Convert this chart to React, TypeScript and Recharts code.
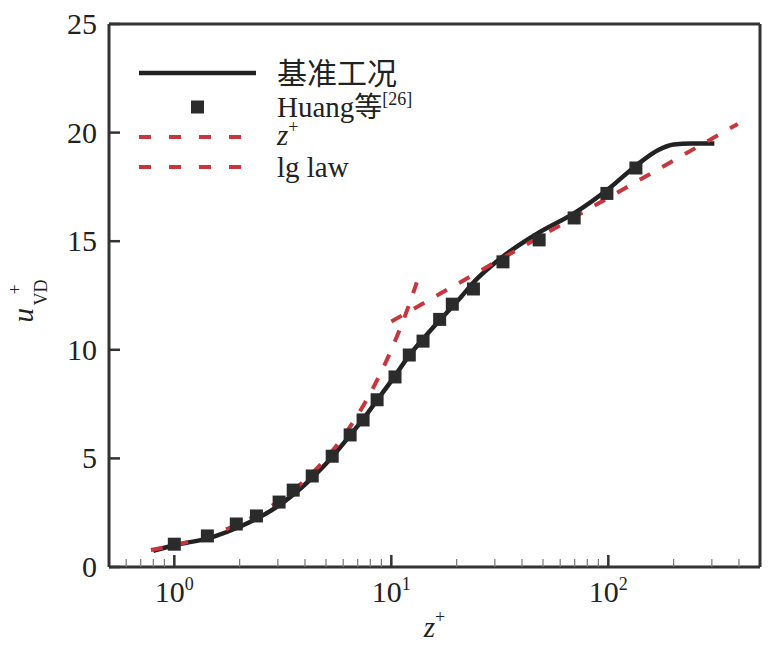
import React from "react";
import {
  ComposedChart,
  Line,
  Scatter,
  XAxis,
  YAxis,
  Legend,
  ReferenceLine,
} from "recharts";

// 基准工况 (solid black curve)
const baseZ = [0.8, 1.0, 1.5, 2.0, 3.0, 4.0, 5.0, 6.5, 7.4, 8.7, 10.4, 12, 14, 16.5, 20, 25, 30, 36, 48, 70, 100, 135, 170, 200, 240, 308];
const baseU = [0.75, 1.0, 1.38, 1.85, 2.8, 3.8, 4.75, 6.1, 6.8, 7.75, 8.8, 9.7, 10.5, 11.3, 12.2, 13.3, 14.0, 14.6, 15.4, 16.3, 17.4, 18.5, 19.2, 19.45, 19.5, 19.5];

// Huang 等 [26] (square markers)
const huangZ = [1.0, 1.42, 1.93, 2.39, 3.04, 3.53, 4.32, 5.34, 6.46, 7.41, 8.6, 10.4, 12.1, 14.0, 16.7, 19.1, 23.9, 32.7, 48, 69.6, 98.5, 134];
const huangU = [1.05, 1.43, 1.98, 2.35, 2.99, 3.54, 4.19, 5.1, 6.08, 6.77, 7.7, 8.75, 9.76, 10.4, 11.4, 12.1, 12.8, 14.05, 15.06, 16.07, 17.2, 18.37];

// z+ (viscous sublayer)
const zPlusZ = [0.78, 1, 1.3, 1.7, 2.2, 3, 4, 5, 6, 7, 8, 9, 10, 11, 12, 13.1];
const zPlusU = [0.78, 1, 1.3, 1.7, 2.2, 3, 4, 5, 6, 7, 8, 9, 10, 11, 12, 13.1];

// lg law
const lgZ = [10, 100, 395];
const lgU = [11.3, 17.0, 20.4];

const xTicks = [0.6, 0.7, 0.8, 0.9, 1, 2, 3, 4, 5, 6, 7, 8, 9, 10, 20, 30, 40, 50, 60, 70, 80, 90, 100, 200, 300, 400];
const yTicks = [0, 5, 10, 15, 20, 25];

const RED = "#c8363d";
const BLACK = "#222";
const AXIS = "#333";
const SERIF = "'Liberation Serif', serif";
const CJK = "'Noto Sans CJK SC', sans-serif";

const zip = (xs: number[], ys: number[]) => xs.map((z, i) => ({ z, u: ys[i] }));

const baseData = zip(baseZ, baseU);
const huangData = zip(huangZ, huangU);
const zPlusData = zip(zPlusZ, zPlusU);
const lgData = zip(lgZ, lgU);

function XTick({ x, y, payload }: any) {
  const v = payload.value;
  const exp = Math.round(Math.log10(v));
  const major = Math.abs(Math.pow(10, exp) - v) < 1e-9;
  return (
    <g>
      <line
        x1={x}
        x2={x}
        y1={y}
        y2={y - (major ? 12 : 8)}
        stroke={major ? AXIS : "#777"}
        strokeWidth={major ? 2.5 : 1.2}
      />
      {major && (
        <text x={x} y={y + 35} textAnchor="middle" style={{ fontFamily: SERIF }} fontSize={30} fill="#222">
          10
          <tspan dy={-12} fontSize={18}>
            {exp}
          </tspan>
        </text>
      )}
    </g>
  );
}

function YTick({ x, y, payload }: any) {
  return (
    <g>
      <line x1={x} x2={x + 11} y1={y} y2={y} stroke={AXIS} strokeWidth={2.5} />
      <text x={x - 12} y={y + 10} textAnchor="end" style={{ fontFamily: SERIF }} fontSize={30} fill="#222">
        {payload.value}
      </text>
    </g>
  );
}

function Square({ cx, cy }: any) {
  if (cx == null || cy == null) return null;
  return <rect x={cx - 6.5} y={cy - 6.5} width={13} height={13} fill="#2b2b2b" />;
}

function YTitle({ viewBox }: any) {
  const cy = viewBox.y + viewBox.height / 2 + 7;
  return (
    <text transform="rotate(-90)" style={{ fontFamily: SERIF }} fill="#222">
      <tspan x={-cy - 20} y={33} fontSize={29} style={{ fontStyle: "italic" }}>
        u
      </tspan>
      <tspan x={-cy - 3} y={47} fontSize={18}>
        VD
      </tspan>
      <tspan x={-cy + 8} y={21} fontSize={18}>
        +
      </tspan>
    </text>
  );
}

function XTitle({ viewBox }: any) {
  const cx = viewBox.x + viewBox.width / 2;
  return (
    <text x={cx} y={viewBox.y + 70} textAnchor="middle" style={{ fontFamily: SERIF }} fill="#222">
      <tspan fontSize={29} style={{ fontStyle: "italic" }}>
        z
      </tspan>
      <tspan dy={-14} fontSize={18}>
        +
      </tspan>
    </text>
  );
}

// legend drawn as svg; row centres relative to the legend box top
const legendRows = [17, 51, 81, 111];

function LegendBox() {
  const tx = 138;
  return (
    <svg width={300} height={130} style={{ display: "block", overflow: "visible" }}>
      <line x1={0} x2={117} y1={legendRows[0]} y2={legendRows[0]} stroke={BLACK} strokeWidth={4.5} />
      <rect x={52} y={legendRows[1] - 6.5} width={13} height={13} fill="#2b2b2b" />
      <line x1={0} x2={104} y1={legendRows[2]} y2={legendRows[2]} stroke={RED} strokeWidth={4} strokeDasharray="12 18" />
      <line x1={0} x2={104} y1={legendRows[3]} y2={legendRows[3]} stroke={RED} strokeWidth={4} strokeDasharray="12 18" />

      <text x={tx} y={legendRows[0] + 11} style={{ fontFamily: CJK }} fontSize={30} fill="#222">
        基准工况
      </text>
      <text x={tx} y={legendRows[1] + 10} style={{ fontFamily: SERIF }} fontSize={29} fill="#222">
        Huang
        <tspan style={{ fontFamily: CJK }} fontSize={28}>
          等
        </tspan>
        <tspan dy={-12} fontSize={18}>
          [26]
        </tspan>
      </text>
      <text x={tx} y={legendRows[2] + 8} style={{ fontFamily: SERIF }} fill="#222">
        <tspan fontSize={29} style={{ fontStyle: "italic" }}>
          z
        </tspan>
        <tspan dy={-12} fontSize={18}>
          +
        </tspan>
      </text>
      <text x={tx} y={legendRows[3] + 10} style={{ fontFamily: SERIF }} fontSize={29} fill="#222">
        lg law
      </text>
    </svg>
  );
}

export default function App() {
  return (
    <div style={{ position: "absolute", left: 0, top: 0, width: 781, height: 659, background: "#fff" }}>
      <ComposedChart width={781} height={659} margin={{ top: 24, right: 21, bottom: 0, left: 0 }}>
        <XAxis
          dataKey="z"
          type="number"
          scale="log"
          domain={[0.5, 500]}
          ticks={xTicks}
          allowDataOverflow
          height={92}
          tickSize={0}
          tickMargin={0}
          tick={<XTick />}
          axisLine={{ stroke: AXIS, strokeWidth: 3 }}
          tickLine={false}
          interval={0}
          label={{ content: (p: any) => <XTitle {...p} /> }}
        />
        <YAxis
          type="number"
          domain={[0, 25]}
          ticks={yTicks}
          width={109}
          tickSize={0}
          tickMargin={0}
          tick={<YTick />}
          axisLine={{ stroke: AXIS, strokeWidth: 3 }}
          tickLine={false}
          interval={0}
          label={{ content: (p: any) => <YTitle {...p} /> }}
        />
        <ReferenceLine y={25} stroke={AXIS} strokeWidth={3} />
        <ReferenceLine x={500} stroke={AXIS} strokeWidth={3} />
        <Legend
          layout="vertical"
          align="center"
          verticalAlign="middle"
          wrapperStyle={{ left: 139, top: 56, width: 300 }}
          content={() => <LegendBox />}
        />
        <Line
          data={baseData}
          dataKey="u"
          type="monotone"
          stroke={BLACK}
          strokeWidth={4.5}
          dot={false}
          activeDot={false}
          isAnimationActive={false}
          name="基准工况"
        />
        <Scatter
          data={huangData}
          dataKey="u"
          shape={<Square />}
          fill="#2b2b2b"
          isAnimationActive={false}
          name="Huang等[26]"
        />
        <Line
          data={zPlusData}
          dataKey="u"
          type="monotone"
          stroke={RED}
          strokeWidth={4}
          strokeDasharray="12 14"
          dot={false}
          activeDot={false}
          isAnimationActive={false}
          name="z+"
        />
        <Line
          data={lgData}
          dataKey="u"
          type="linear"
          stroke={RED}
          strokeWidth={4}
          strokeDasharray="12 14"
          dot={false}
          activeDot={false}
          isAnimationActive={false}
          name="lg law"
        />
      </ComposedChart>
    </div>
  );
}
